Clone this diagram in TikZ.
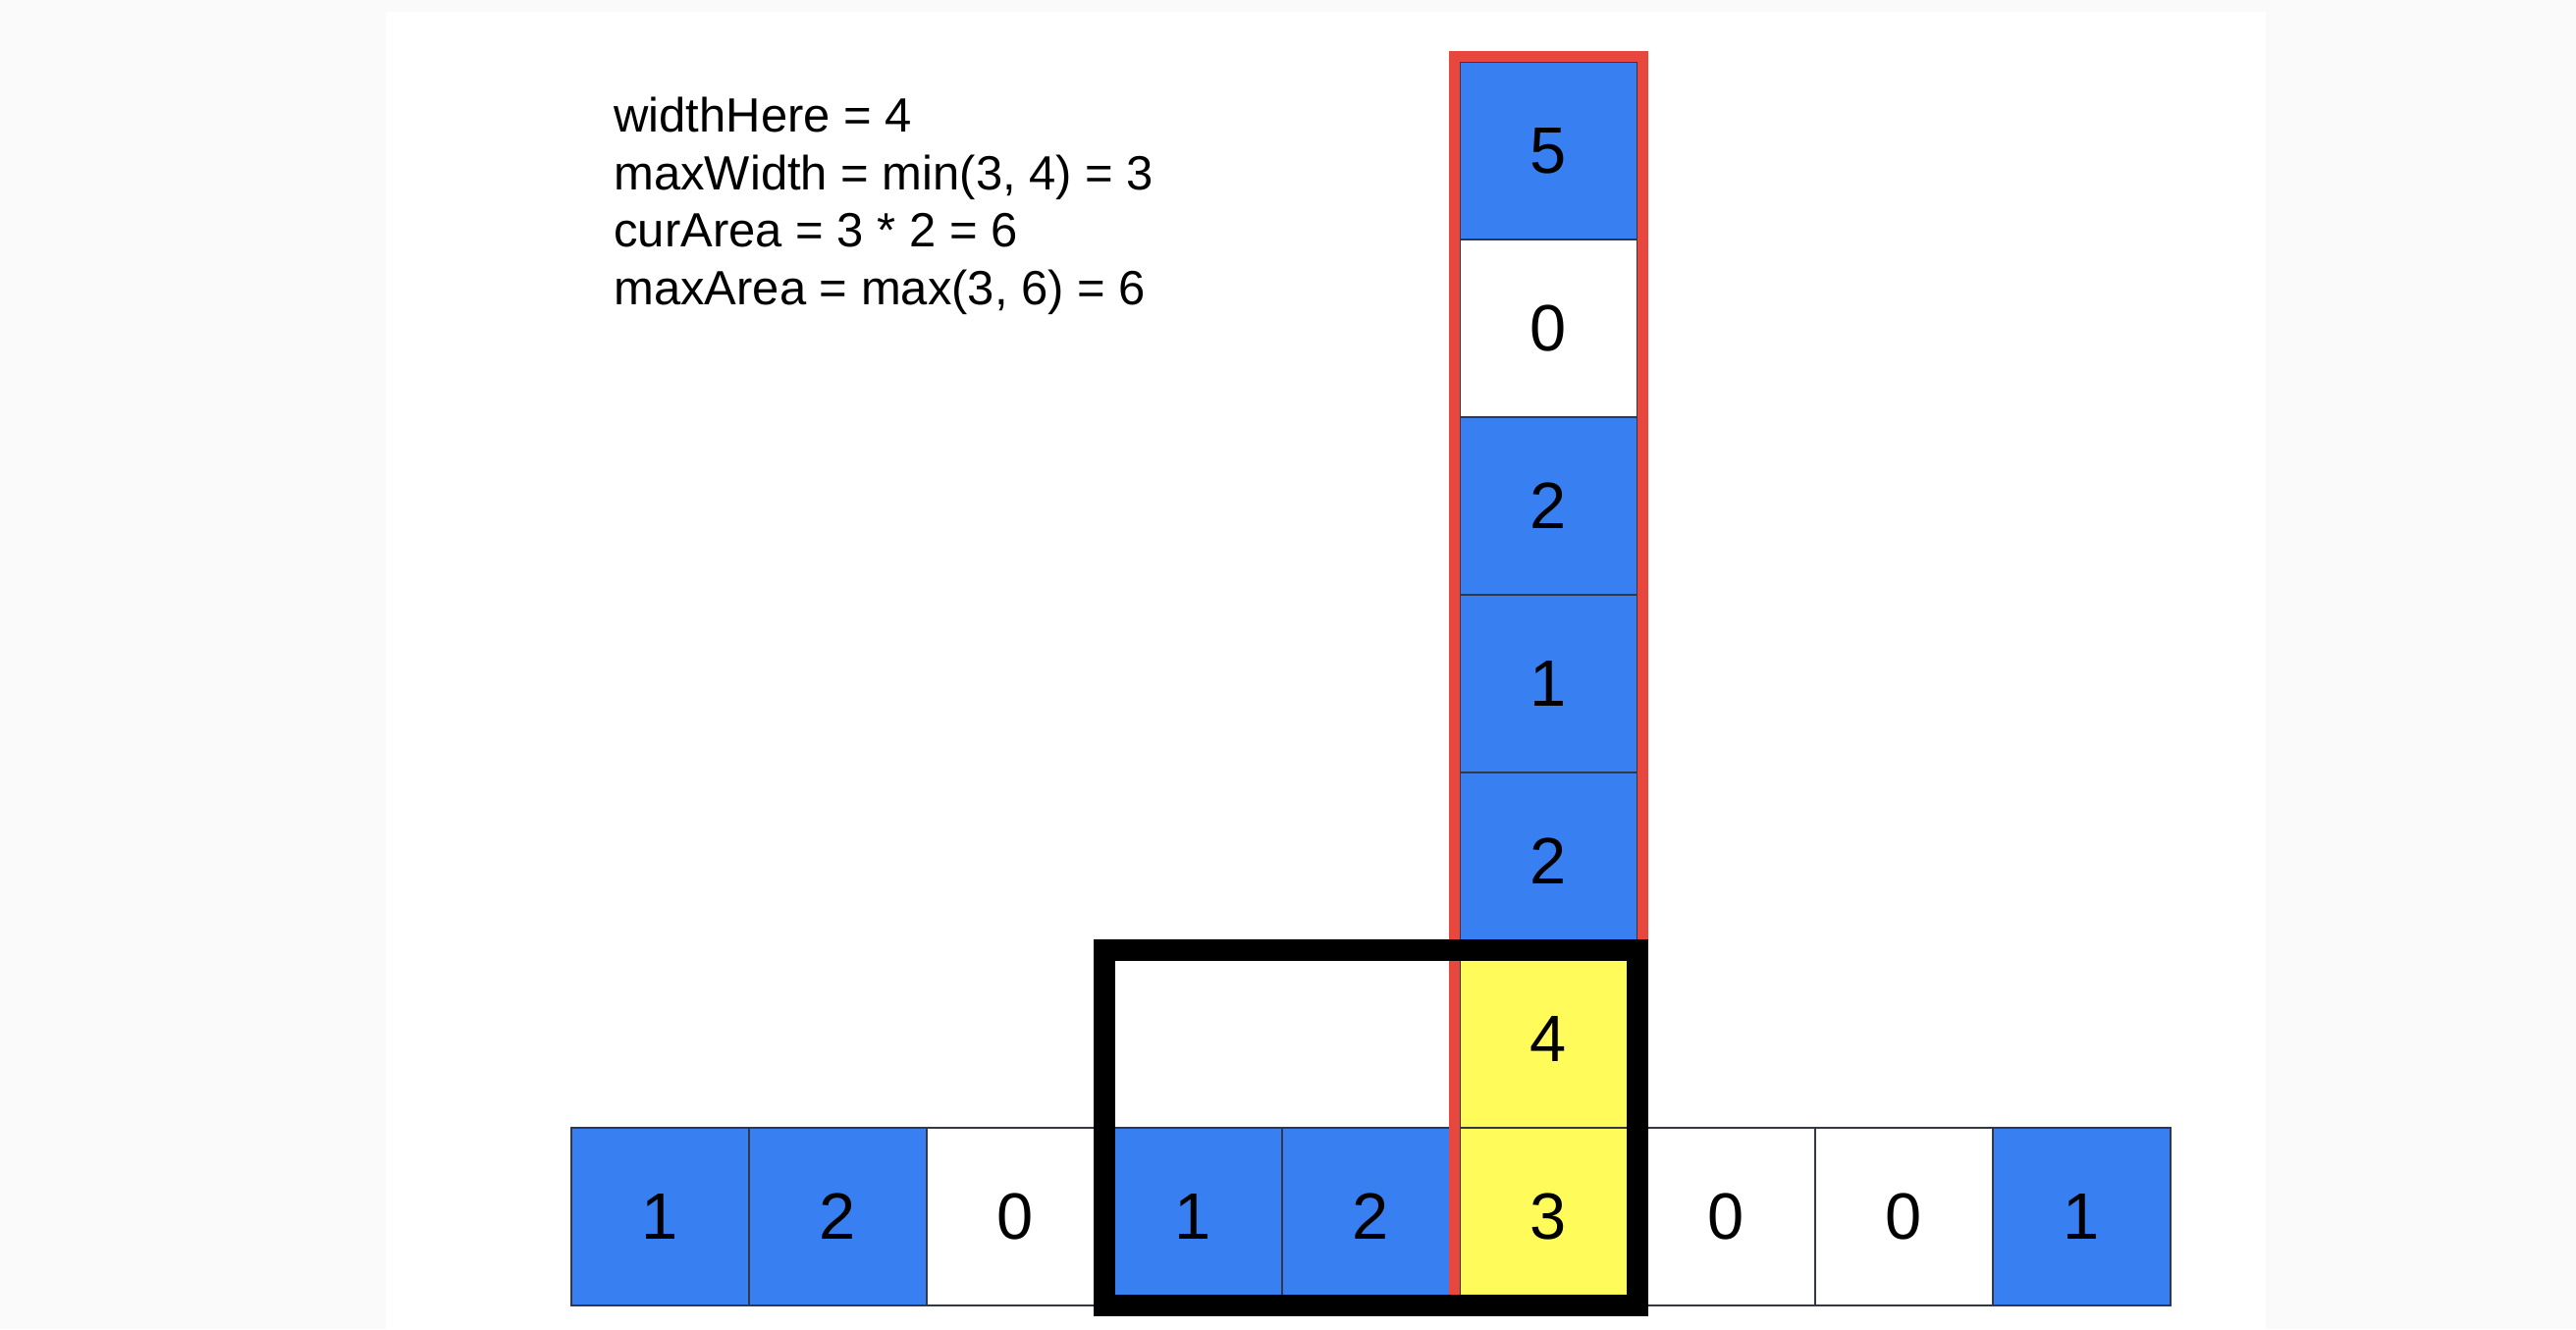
\documentclass[tikz,border=0pt]{standalone}
\usepackage{xcolor}
\usepackage{fontspec}
\setmainfont{Liberation Sans}
\usepackage{tikz}
\usetikzlibrary{positioning}
\definecolor{cellblue}{HTML}{3880F2}
\definecolor{cellyellow}{HTML}{FFFB5B}
\definecolor{stackred}{HTML}{E8473E}
\definecolor{pagegray}{HTML}{FAFAFA}
\definecolor{cellline}{HTML}{333844}

\tikzset{
  cell/.style={draw=cellline, line width=0.4pt, minimum size=1cm, outer sep=0pt,
               inner sep=0pt, font=\fontsize{10.5}{12.6}\selectfont},
}

\begin{document}
\begin{tikzpicture}
    \useasboundingbox (0,0) rectangle (14.497,7.481);
    \fill[pagegray] (0,0) rectangle (14.497,7.481);
    \fill[white] (2.171,0) rectangle (12.751,7.414);

    % bottom row
    \foreach \v/\col [count=\i from 0] in {1/cellblue, 2/cellblue, 0/white, 1/cellblue,
        2/cellblue, 3/cellyellow, 0/white, 0/white, 1/cellblue}
      \node[cell, fill=\col] (b\i) at (3.715+\i,0.633) {\v};

    % column over the 3
    \node[cell, fill=cellyellow, above=0pt of b5] (c1) {4};
    \node[cell, fill=cellblue, above=0pt of c1] (c2) {2};
    \node[cell, fill=cellblue, above=0pt of c2] (c3) {1};
    \node[cell, fill=cellblue, above=0pt of c3] (c4) {2};
    \node[cell, fill=white, above=0pt of c4] (c5) {0};
    \node[cell, fill=cellblue, above=0pt of c5] (c6) {5};

    \draw[stackred, line width=1.7pt] ([shift={(-0.03,0.03)}]c6.north west)
      rectangle ([xshift=0.03cm]b5.south east);
    \draw[line width=3.45pt] (b3.south west) rectangle (c1.north east);

    \node[anchor=north west, inner sep=0pt, align=left,
          font=\fontsize{7.7}{9.2}\selectfont] (notes) at (3.448,6.94) {%
      widthHere = 4\\
      maxWidth = min(3, 4) = 3\\
      curArea = 3 * 2 = 6\\
      maxArea = max(3, 6) = 6};
  \end{tikzpicture}
\end{document}
